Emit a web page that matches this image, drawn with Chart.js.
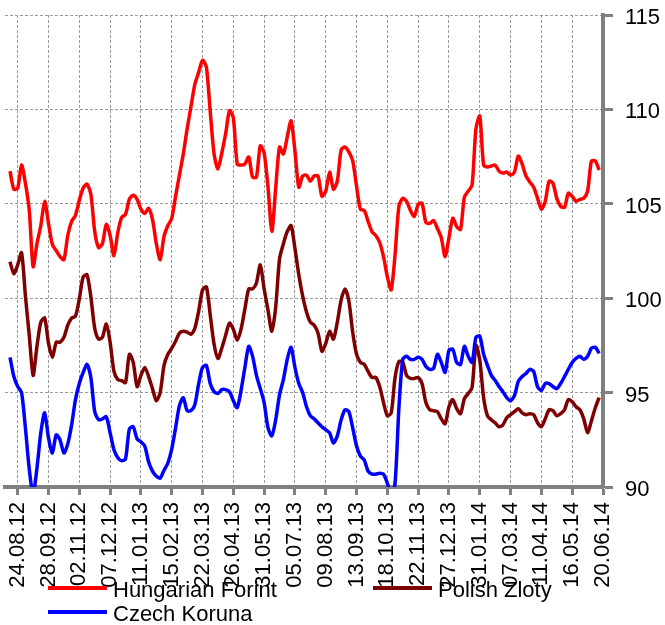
<!DOCTYPE html>
<html lang="en">
<head>
  <meta charset="UTF-8">
  <title>Hungarian Forint, Polish Zloty, Czech Koruna</title>
  <script src="https://cdn.jsdelivr.net/npm/chart.js"></script>
  <style>
    body { margin: 0; background: #ffffff; }
  </style>
</head>
<body>
  <canvas id="fxChart" width="665" height="625"></canvas>

  <script>
    // One point roughly every three business days, a date label every 8 points
    const FIRST_INDEX = -2;
    const TICK_STEP = 8;

    const dateLabels = [
      "24.08.12", "28.09.12", "02.11.12", "07.12.12", "11.01.13",
      "15.02.13", "22.03.13", "26.04.13", "31.05.13", "05.07.13",
      "09.08.13", "13.09.13", "18.10.13", "22.11.13", "27.12.13",
      "31.01.14", "07.03.14", "11.04.14", "16.05.14", "20.06.14"
    ];

    const hufValues = [
      106.73, 105.77, 105.83, 107.05, 106.09, 104.65, 101.67, 102.89, 103.85, 105.13, 103.96, 102.84,
      102.52, 102.2, 102.04, 103.32, 104.07, 104.39, 105.19, 105.83, 106.04, 105.51,
      103.53, 102.68, 102.89, 103.91, 103.32, 102.25, 103.48, 104.28, 104.44, 105.24,
      105.45, 105.24, 104.71, 104.49, 104.76, 104.17, 102.89, 102.04, 103.27, 103.85,
      104.23, 105.4, 106.52, 107.64, 108.97, 110.15, 111.32, 111.96, 112.6, 112.23,
      109.88, 107.64, 106.84, 107.69, 108.71, 109.93, 109.56, 107.11, 107.05, 107.11,
      107.48, 106.41, 106.41, 108.07, 107.69, 105.88, 103.53, 105.83, 108.01, 107.64,
      108.55, 109.4, 107.8, 105.88, 106.47, 106.52, 106.2, 106.47, 106.47, 105.4,
      105.67, 106.68, 105.77, 106.2, 107.85, 108.01, 107.75, 107.27, 105.93, 104.71,
      104.65, 104.07, 103.53, 103.32, 102.95, 102.2, 101.13, 100.44, 102.31, 104.87,
      105.29, 105.13, 104.65, 104.33, 104.97, 105.03, 104.01, 103.96, 104.12, 103.69,
      103.21, 102.2, 103.21, 104.23, 103.8, 103.64, 105.35, 105.67, 105.99, 108.97,
      109.65, 107.05, 106.95, 107.0, 107.05, 106.73, 106.63, 106.68, 106.52, 106.68,
      107.53, 107.11, 106.47, 106.15, 105.88, 105.29, 104.71, 105.13, 106.2, 106.09,
      105.29, 104.87, 104.81, 105.56, 105.4, 105.13, 105.24, 105.29, 105.67, 107.27,
      107.27, 106.79
    ];

    const plnValues = [
      101.93, 101.29, 101.77, 102.41, 100.12, 98.04, 95.91, 97.45, 98.73, 98.95, 97.61, 96.87,
      97.67, 97.67, 97.93, 98.57, 98.95, 99.05, 99.96, 101.13, 101.24, 100.07,
      98.41, 97.83, 97.93, 98.63, 97.67, 96.12, 95.69, 95.63, 95.53, 97.03,
      96.6, 95.32, 95.91, 96.33, 95.85, 95.21, 94.57, 95.0, 96.44, 97.03,
      97.35, 97.72, 98.15, 98.25, 98.2, 98.09, 98.41, 99.32, 100.44, 100.6,
      99.11, 97.56, 96.81, 97.35, 98.04, 98.68, 98.36, 97.77, 98.36, 99.43,
      100.49, 100.49, 100.81, 101.77, 100.49, 99.37, 98.25, 99.53, 102.09, 102.89,
      103.53, 103.85, 102.63, 101.24, 100.12, 99.27, 98.73, 98.57, 98.15, 97.19,
      97.61, 98.25, 97.83, 98.73, 99.91, 100.49, 99.85, 98.2, 97.03, 96.6,
      96.49, 96.12, 95.8, 95.8, 95.32, 94.47, 93.77, 93.93, 95.8, 96.65,
      96.6, 95.91, 95.75, 95.75, 95.8, 95.48, 94.47, 94.09, 94.04, 93.99,
      93.61, 93.35, 94.25, 94.63, 94.15, 93.88, 94.68, 94.95, 95.27, 97.5,
      96.71, 94.73, 93.77, 93.56, 93.4, 93.19, 93.29, 93.67, 93.83, 93.99,
      94.15, 93.93, 93.83, 93.88, 93.83, 93.4, 93.19, 93.61, 94.09, 94.04,
      93.77, 93.88, 94.09, 94.63, 94.52, 94.25, 94.09, 93.61, 92.87, 93.51,
      94.2, 94.73
    ];

    const czkValues = [
      96.87, 95.85, 95.32, 95.0, 93.13, 90.95, 89.6, 91.0, 92.87, 93.93, 92.6, 91.8,
      92.76, 92.49, 91.8, 92.28, 93.29, 94.63, 95.48, 96.07, 96.49, 95.8,
      93.99, 93.56, 93.61, 93.72, 92.87, 91.97, 91.55, 91.39, 91.49, 93.08,
      93.19, 92.55, 92.39, 92.17, 91.33, 90.84, 90.57, 90.47, 90.89, 91.27,
      92.01, 93.13, 94.31, 94.73, 94.04, 94.04, 94.36, 95.48, 96.33, 96.44,
      95.48, 95.05, 94.95, 95.16, 95.16, 95.05, 94.57, 94.2, 95.11, 96.33,
      97.45, 96.92, 95.91, 95.21, 94.47, 93.13, 92.71, 93.56, 94.89, 95.69,
      96.76, 97.4, 96.33, 95.48, 95.0, 94.25, 93.77, 93.61, 93.4, 93.19,
      93.03, 92.87, 92.33, 92.71, 93.56, 94.09, 93.99, 93.13, 92.17, 91.64,
      91.43, 90.84, 90.68, 90.68, 90.73, 90.68, 90.2, 89.56, 90.2, 94.2,
      96.76, 96.92, 96.76, 96.76, 96.87, 96.76, 96.39, 96.23, 96.28, 97.03,
      96.6, 96.07, 97.24, 97.29, 96.6, 96.49, 97.45, 96.92, 96.6, 97.93,
      97.99, 97.03, 96.44, 95.91, 95.64, 95.32, 95.05, 94.73, 94.57, 94.84,
      95.59, 95.85, 96.01, 96.23, 96.12, 95.32, 95.11, 95.48, 95.48, 95.32,
      95.21, 95.48, 95.85, 96.23, 96.6, 96.81, 96.92, 96.76, 96.92, 97.35,
      97.4, 97.08
    ];

    const pointIndex = hufValues.map((v, i) => i + FIRST_INDEX);

    const FONT = { family: '"Liberation Sans", Arial, sans-serif', size: 22 };
    const AXIS_GREY = '#808080';
    const GRID_GREY = '#9a9a9a';

    // Legend drawn under the plot, overlapping the rotated date labels
    const legendSlots = [
      { dataset: 0, x: 48, y: 588 },
      { dataset: 1, x: 373, y: 588 },
      { dataset: 2, x: 48, y: 612 }
    ];

    const lineLegend = {
      id: 'lineLegend',
      afterDraw(chart) {
        const ctx = chart.ctx;
        ctx.save();
        ctx.font = FONT.size + 'px ' + FONT.family;
        ctx.textBaseline = 'alphabetic';
        ctx.textAlign = 'left';
        legendSlots.forEach(slot => {
          const ds = chart.data.datasets[slot.dataset];
          ctx.strokeStyle = ds.borderColor;
          ctx.lineWidth = 4;
          ctx.beginPath();
          ctx.moveTo(slot.x, slot.y);
          ctx.lineTo(slot.x + 59, slot.y);
          ctx.stroke();
          ctx.fillStyle = '#000000';
          ctx.fillText(ds.label, slot.x + 65, slot.y + 9);
        });
        ctx.restore();
      }
    };

    function series(label, values, color, order) {
      return {
        label: label,
        data: values,
        borderColor: color,
        backgroundColor: color,
        borderWidth: 3.5,
        pointRadius: 0,
        tension: 0.25,
        fill: false,
        order: order,
        clip: { left: 10, top: 10, right: 5, bottom: 0 }
      };
    }

    new Chart(document.getElementById('fxChart').getContext('2d'), {
      type: 'line',
      data: {
        labels: pointIndex,
        datasets: [
          series('Hungarian Forint', hufValues, '#ff0000', 3),
          series('Polish Zloty', plnValues, '#7f0000', 2),
          series('Czech Koruna', czkValues, '#0000ff', 1)
        ]
      },
      options: {
        responsive: false,
        animation: false,
        devicePixelRatio: 1,
        layout: { padding: { left: 5, top: 15, right: 0, bottom: 0 } },
        plugins: {
          legend: { display: false },
          tooltip: { enabled: false }
        },
        scales: {
          x: {
            type: 'linear',
            min: -3.3,
            max: 152,
            afterBuildTicks: axis => {
              axis.ticks = dateLabels.map((_, k) => ({ value: k * TICK_STEP }));
            },
            afterFit: axis => {
              axis.height = 138;
              axis.paddingLeft = 0;
              axis.paddingRight = 0;
            },
            ticks: {
              autoSkip: false,
              maxRotation: 90,
              minRotation: 90,
              padding: 7,
              color: '#000000',
              font: FONT,
              callback: (value, index) => dateLabels[index]
            },
            grid: {
              color: GRID_GREY,
              lineWidth: 1,
              tickLength: 8,
              tickWidth: 3,
              tickColor: AXIS_GREY,
              tickBorderDash: []
            },
            border: { display: true, color: AXIS_GREY, width: 4, dash: [3, 2] }
          },
          y: {
            position: 'right',
            min: 90,
            max: 115,
            afterFit: axis => {
              axis.width = 62;
              axis.paddingTop = 0;
              axis.paddingBottom = 0;
            },
            ticks: {
              stepSize: 5,
              padding: 12,
              labelOffset: 3,
              color: '#000000',
              font: FONT
            },
            grid: {
              color: GRID_GREY,
              lineWidth: 1,
              tickLength: 10,
              tickWidth: 3,
              tickColor: AXIS_GREY,
              tickBorderDash: []
            },
            border: { display: true, color: AXIS_GREY, width: 4, dash: [3, 2] }
          }
        }
      },
      plugins: [lineLegend]
    });
  </script>
</body>
</html>
